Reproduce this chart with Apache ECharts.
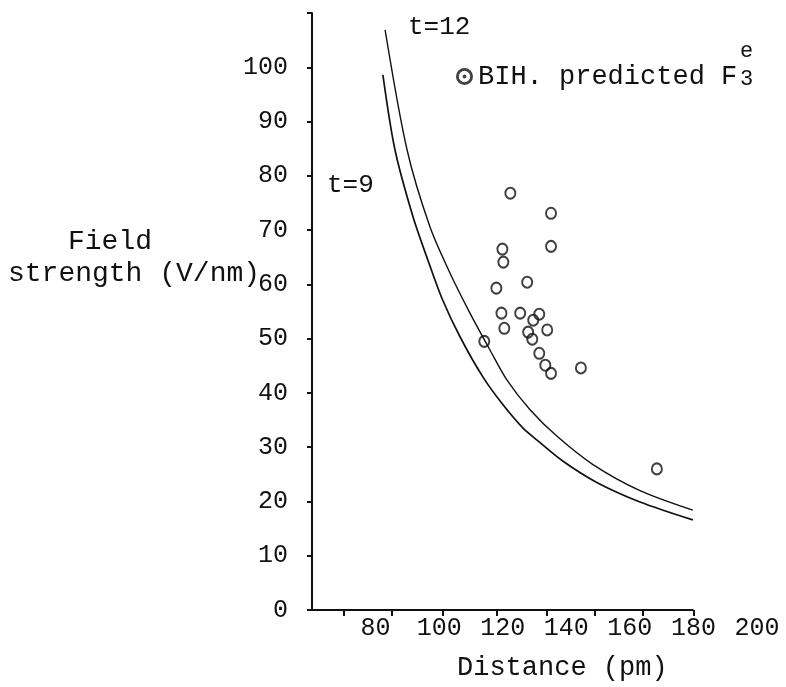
<!DOCTYPE html>
<html>
<head>
<meta charset="utf-8">
<script src="https://cdn.jsdelivr.net/npm/echarts@6/dist/echarts.min.js"></script>
<style>
  html, body { margin: 0; padding: 0; background: #fff; }
  #chart { width: 786px; height: 687px; }
</style>
</head>
<body>
<div id="chart"></div>
<script>
// tick labels
const yLabelValues = [0, 10, 20, 30, 40, 50, 60, 70, 80, 90, 100];
const xLabelValues = [80, 100, 120, 140, 160, 180, 200];
// typed tick marks on the distance axis do not sit under the labels
const xTickValues = [70, 85, 101, 118, 134, 149, 164, 180];
const xAxisStart = 60;
const xAxisEnd = 180;

// t = 9 curve
const t9Dist = [82.3, 86.1, 91.8, 96.5, 100.9, 106.6, 113.8, 120.1, 126.4, 130.8, 139.0, 149.6, 163.2, 179.8];
const t9Field = [98.6, 84.8, 72.4, 64.4, 57.4, 50.3, 42.9, 37.8, 33.5, 31.3, 27.4, 23.5, 19.9, 16.6];

// t = 12 curve
const t12Dist = [83.0, 89.9, 97.1, 103.4, 109.7, 116.0, 121.3, 128.6, 137.1, 148.4, 163.2, 179.8];
const t12Field = [106.9, 84.8, 70.6, 62.1, 54.7, 47.9, 42.4, 36.9, 32.0, 26.8, 22.0, 18.4];

// BIH predicted points
const bihDist = [122.4, 135.2, 135.2, 119.9, 120.2, 127.7, 118.0, 119.6, 125.5, 131.5, 129.6,
  120.5, 134.0, 128.0, 129.3, 114.2, 131.5, 133.4, 135.2, 144.6, 168.5];
const bihField = [76.8, 73.1, 67.0, 66.5, 64.1, 60.4, 59.3, 54.7, 54.7, 54.5, 53.4,
  51.9, 51.6, 51.2, 49.9, 49.5, 47.3, 45.1, 43.6, 44.6, 26.0];

const font = "'Liberation Mono', 'DejaVu Sans Mono', monospace";
const ink = '#111';

const zip = (a, b) => a.map((v, i) => [v, b[i]]);

const chart = echarts.init(document.getElementById('chart'));

const option = {
  backgroundColor: '#fff',
  animation: false,
  grid: { left: 312, right: 29, top: 13, bottom: 77 },
  legend: {
    left: 451,
    top: 58,
    data: ['BIH. predicted F'],
    icon: 'path://M1,10 A9,9 0 0 1 19,10 A9,9 0 0 1 1,10 Z M4,10 A6,6 0 0 0 16,10 A6,6 0 0 0 4,10 Z M8,10 A2,2 0 0 1 12,10 A2,2 0 0 1 8,10 Z',
    itemWidth: 17,
    itemHeight: 17,
    itemGap: 6,
    itemStyle: { color: ink, borderWidth: 0 },
    textStyle: { fontFamily: font, fontSize: 27, color: ink },
  },
  xAxis: {
    type: 'value',
    min: 60,
    max: 200,
    axisLine: { show: false },
    splitLine: { show: false },
    axisTick: {
      show: true,
      customValues: xTickValues,
      length: 6,
      lineStyle: { color: ink, width: 2 },
    },
    axisLabel: {
      customValues: xLabelValues,
      margin: 6,
      fontFamily: font,
      fontSize: 25,
      color: ink,
    },
  },
  yAxis: {
    type: 'value',
    min: 0,
    max: 110,
    interval: 10,
    axisLine: { show: true, lineStyle: { color: ink, width: 2 } },
    splitLine: { show: false },
    axisTick: {
      show: true,
      length: 5,
      lineStyle: { color: ink, width: 2 },
    },
    axisLabel: {
      customValues: yLabelValues,
      margin: 24,
      fontFamily: font,
      fontSize: 25,
      color: ink,
    },
  },
  series: [
    {
      name: 't=9',
      type: 'line',
      data: zip(t9Dist, t9Field),
      smooth: 0.3,
      showSymbol: false,
      lineStyle: { color: ink, width: 1.7 },
      markLine: {
        silent: true,
        symbol: 'none',
        label: { show: false },
        lineStyle: { color: ink, width: 2, type: 'solid' },
        data: [[{ coord: [xAxisStart, 0] }, { coord: [xAxisEnd, 0] }]],
      },
    },
    {
      name: 't=12',
      type: 'line',
      data: zip(t12Dist, t12Field),
      smooth: 0.3,
      showSymbol: false,
      lineStyle: { color: ink, width: 1.4 },
    },
    {
      name: 'BIH. predicted F',
      type: 'scatter',
      data: zip(bihDist, bihField),
      symbol: 'circle',
      symbolSize: [10, 11],
      itemStyle: { color: 'rgba(0,0,0,0)', borderColor: ink, borderWidth: 2 },
    },
  ],
  graphic: [
    { type: 'text', left: 408, top: 14, style: { text: 't=12', font: '26px ' + font, fill: ink } },
    { type: 'text', left: 327, top: 172, style: { text: 't=9', font: '26px ' + font, fill: ink } },
    { type: 'text', left: 740, top: 40, style: { text: 'e', font: '22px ' + font, fill: ink } },
    { type: 'text', left: 740, top: 68, style: { text: '3', font: '22px ' + font, fill: ink } },
    { type: 'text', left: 68, top: 228, style: { text: 'Field', font: '28px ' + font, fill: ink } },
    { type: 'text', left: 8, top: 260, style: { text: 'strength (V/nm)', font: '28px ' + font, fill: ink } },
    { type: 'text', left: 457, top: 654, style: { text: 'Distance (pm)', font: '27px ' + font, fill: ink } },
  ],
};

chart.setOption(option);
window.addEventListener('resize', () => chart.resize());
</script>
</body>
</html>
